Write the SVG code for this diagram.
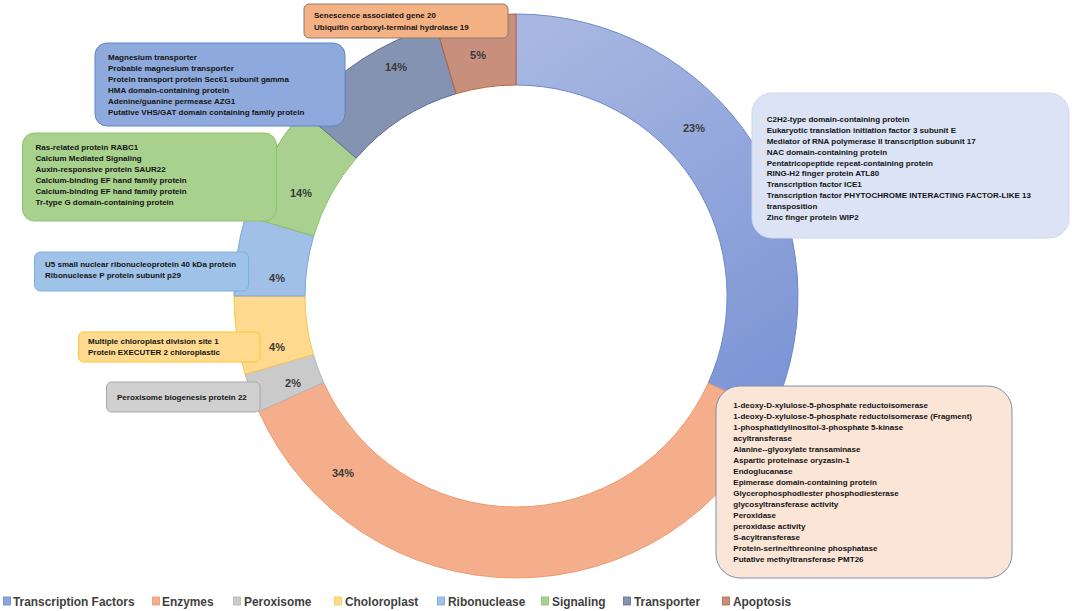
<svg xmlns="http://www.w3.org/2000/svg" width="1072" height="611" viewBox="0 0 1072 611">
<style>
text { font-family: "Liberation Sans", Arial, sans-serif; font-weight: bold; }
.bt { font-size: 8px; fill: #141414; }
.pct { font-size: 11px; fill: #3a3a3a; text-anchor: middle; }
.lg { font-size: 11.9px; fill: #3f3f3f; }
.slice { stroke-width: 1; }
</style>
<defs>
<linearGradient id="gTF" gradientUnits="userSpaceOnUse" x1="540" y1="20" x2="780" y2="400">
<stop offset="0" stop-color="#a9b8e2"/>
<stop offset="1" stop-color="#7b94d5"/>
</linearGradient>
</defs>
<rect width="1072" height="611" fill="#ffffff"/>

<g id="donut">
<path id="slice-transcription-factors" class="slice" fill="url(#gTF)" stroke="#6f88cc" d="M516,14 A282,282 0 0 1 772.8,412.5 L708.2,383.2 A211,211 0 0 0 516,85 Z"/>
<path id="slice-enzymes" class="slice" fill="#f4ae8b" stroke="#ef9a6e" d="M772.8,412.5 A282,282 0 0 1 258.8,411.6 L323.6,382.5 A211,211 0 0 0 708.2,383.2 Z"/>
<path id="slice-peroxisome" class="slice" fill="#cacaca" stroke="#b5b5b5" d="M258.8,411.6 A282,282 0 0 1 245.1,374.2 L313.3,354.5 A211,211 0 0 0 323.6,382.5 Z"/>
<path id="slice-choloroplast" class="slice" fill="#ffd98f" stroke="#f7c748" d="M245.1,374.2 A282,282 0 0 1 234,296 L305,296 A211,211 0 0 0 313.3,354.5 Z"/>
<path id="slice-ribonuclease" class="slice" fill="#a0c0e8" stroke="#79a7dc" d="M234,296 A282,282 0 0 1 245.6,215.9 L313.7,236.1 A211,211 0 0 0 305,296 Z"/>
<path id="slice-signaling" class="slice" fill="#a9d08e" stroke="#8cbf6b" d="M245.6,215.9 A282,282 0 0 1 302.5,111.7 L356.3,158.1 A211,211 0 0 0 313.7,236.1 Z"/>
<path id="slice-transporter" class="slice" fill="#8593b3" stroke="#5d6d96" d="M302.5,111.7 A282,282 0 0 1 435.9,25.6 L456.1,93.7 A211,211 0 0 0 356.3,158.1 Z"/>
<path id="slice-apoptosis" class="slice" fill="#c98f7d" stroke="#b5643f" d="M435.9,25.6 A282,282 0 0 1 516,14 L516,85 A211,211 0 0 0 456.1,93.7 Z"/>
</g>

<g id="connectors"></g>

<g id="transcription-factors">
<rect x="752" y="93" width="317" height="145" rx="20" fill="#dbe3f4" stroke="#cdd7ee" stroke-width="1"/>
<text class="bt" x="766.7" y="122.3">C2H2-type domain-containing protein</text>
<text class="bt" x="766.7" y="133.1">Eukaryotic translation initiation factor 3 subunit E</text>
<text class="bt" x="766.7" y="143.9">Mediator of RNA polymerase II transcription subunit 17</text>
<text class="bt" x="766.7" y="154.7">NAC domain-containing protein</text>
<text class="bt" x="766.7" y="165.5">Pentatricopeptide repeat-containing protein</text>
<text class="bt" x="766.7" y="176.3">RING-H2 finger protein ATL80</text>
<text class="bt" x="766.7" y="187.1">Transcription factor ICE1</text>
<text class="bt" x="766.7" y="197.9">Transcription factor PHYTOCHROME INTERACTING FACTOR-LIKE 13</text>
<text class="bt" x="766.7" y="208.7">transposition</text>
<text class="bt" x="766.7" y="219.5">Zinc finger protein WIP2</text>
<text class="pct" x="694" y="132">23%</text>
</g>

<g id="enzymes">
<rect x="716" y="386" width="296" height="192" rx="24" fill="#fbe5d6" stroke="#7f8fac" stroke-width="1"/>
<text class="bt" x="733.3" y="408">1-deoxy-D-xylulose-5-phosphate reductoisomerase</text>
<text class="bt" x="733.3" y="419">1-deoxy-D-xylulose-5-phosphate reductoisomerase (Fragment)</text>
<text class="bt" x="733.3" y="430">1-phosphatidylinositol-3-phosphate 5-kinase</text>
<text class="bt" x="733.3" y="441">acyltransferase</text>
<text class="bt" x="733.3" y="452">Alanine--glyoxylate transaminase</text>
<text class="bt" x="733.3" y="463">Aspartic proteinase oryzasin-1</text>
<text class="bt" x="733.3" y="474">Endoglucanase</text>
<text class="bt" x="733.3" y="485">Epimerase domain-containing protein</text>
<text class="bt" x="733.3" y="496">Glycerophosphodiester phosphodiesterase</text>
<text class="bt" x="733.3" y="507">glycosyltransferase activity</text>
<text class="bt" x="733.3" y="518">Peroxidase</text>
<text class="bt" x="733.3" y="529">peroxidase activity</text>
<text class="bt" x="733.3" y="540">S-acyltransferase</text>
<text class="bt" x="733.3" y="551">Protein-serine/threonine phosphatase</text>
<text class="bt" x="733.3" y="562">Putative methyltransferase PMT26</text>
<text class="pct" x="343" y="477">34%</text>
</g>

<g id="peroxisome">
<rect x="106.5" y="382" width="153.5" height="30" rx="5" fill="#d0d0d0" stroke="#a8a8a8" stroke-width="1"/>
<text class="bt" x="117" y="400">Peroxisome biogenesis protein 22</text>
<text class="pct" x="293" y="387">2%</text>
</g>

<g id="choloroplast">
<rect x="78.5" y="332" width="181.5" height="30" rx="5" fill="#ffda8f" stroke="#ffc52e" stroke-width="1"/>
<text class="bt" x="88" y="344">Multiple chloroplast division site 1</text>
<text class="bt" x="88" y="355.3">Protein EXECUTER 2 chloroplastic</text>
<text class="pct" x="277" y="351">4%</text>
</g>

<g id="ribonuclease">
<rect x="34.5" y="252" width="214" height="39" rx="6" fill="#9fc3e8" stroke="#7db0e0" stroke-width="1"/>
<text class="bt" x="45" y="266.5">U5 small nuclear ribonucleoprotein 40 kDa protein</text>
<text class="bt" x="45" y="277.5">Ribonuclease P protein subunit p29</text>
<text class="pct" x="277" y="282">4%</text>
</g>

<g id="signaling">
<rect x="22.5" y="133" width="254" height="88" rx="12" fill="#a9d18e" stroke="#8ec36d" stroke-width="1"/>
<text class="bt" x="35.5" y="149.6">Ras-related protein RABC1</text>
<text class="bt" x="35.5" y="160.6">Calcium Mediated Signaling</text>
<text class="bt" x="35.5" y="171.6">Auxin-responsive protein SAUR22</text>
<text class="bt" x="35.5" y="182.6">Calcium-binding EF hand family protein</text>
<text class="bt" x="35.5" y="193.6">Calcium-binding EF hand family protein</text>
<text class="bt" x="35.5" y="204.6">Tr-type G domain-containing protein</text>
<text class="pct" x="301" y="197">14%</text>
</g>

<g id="transporter">
<rect x="95" y="43" width="250" height="83" rx="12" fill="#8eaadc" stroke="#5f86cc" stroke-width="1"/>
<text class="bt" x="108" y="59.6">Magnesium transporter</text>
<text class="bt" x="108" y="70.6">Probable magnesium transporter</text>
<text class="bt" x="108" y="81.6">Protein transport protein Sec61 subunit gamma</text>
<text class="bt" x="108" y="92.6">HMA domain-containing protein</text>
<text class="bt" x="108" y="103.6">Adenine/guanine permease AZG1</text>
<text class="bt" x="108" y="114.6">Putative VHS/GAT domain containing family protein</text>
<text class="pct" x="396" y="71">14%</text>
</g>

<g id="apoptosis">
<rect x="304" y="4" width="204" height="34" rx="5" fill="#f4b183" stroke="#8c7a70" stroke-width="1"/>
<text class="bt" x="314" y="18">Senescence associated gene 20</text>
<text class="bt" x="314" y="29.5">Ubiquitin carboxyl-terminal hydrolase 19</text>
<text class="pct" x="478" y="59">5%</text>
</g>

<g id="legend">
<rect x="3.5" y="597" width="7" height="8" fill="#8ea4dc" stroke="#6f88cc" stroke-width="0.8"/>
<text class="lg" x="13" y="605.5">Transcription Factors</text>
<rect x="152.5" y="597" width="7" height="8" fill="#f4ae8b" stroke="#ef9a6e" stroke-width="0.8"/>
<text class="lg" x="162" y="605.5">Enzymes</text>
<rect x="233.5" y="597" width="7" height="8" fill="#cacaca" stroke="#b5b5b5" stroke-width="0.8"/>
<text class="lg" x="244" y="605.5">Peroxisome</text>
<rect x="334.5" y="597" width="7" height="8" fill="#ffd98f" stroke="#f7c748" stroke-width="0.8"/>
<text class="lg" x="345" y="605.5">Choloroplast</text>
<rect x="437.5" y="597" width="7" height="8" fill="#a0c0e8" stroke="#79a7dc" stroke-width="0.8"/>
<text class="lg" x="448" y="605.5">Ribonuclease</text>
<rect x="541.5" y="597" width="7" height="8" fill="#a9d08e" stroke="#8cbf6b" stroke-width="0.8"/>
<text class="lg" x="552" y="605.5">Signaling</text>
<rect x="623.5" y="597" width="7" height="8" fill="#8593b3" stroke="#5d6d96" stroke-width="0.8"/>
<text class="lg" x="634" y="605.5">Transporter</text>
<rect x="722.5" y="597" width="7" height="8" fill="#c98f7d" stroke="#b5643f" stroke-width="0.8"/>
<text class="lg" x="733" y="605.5">Apoptosis</text>
</g>
</svg>
